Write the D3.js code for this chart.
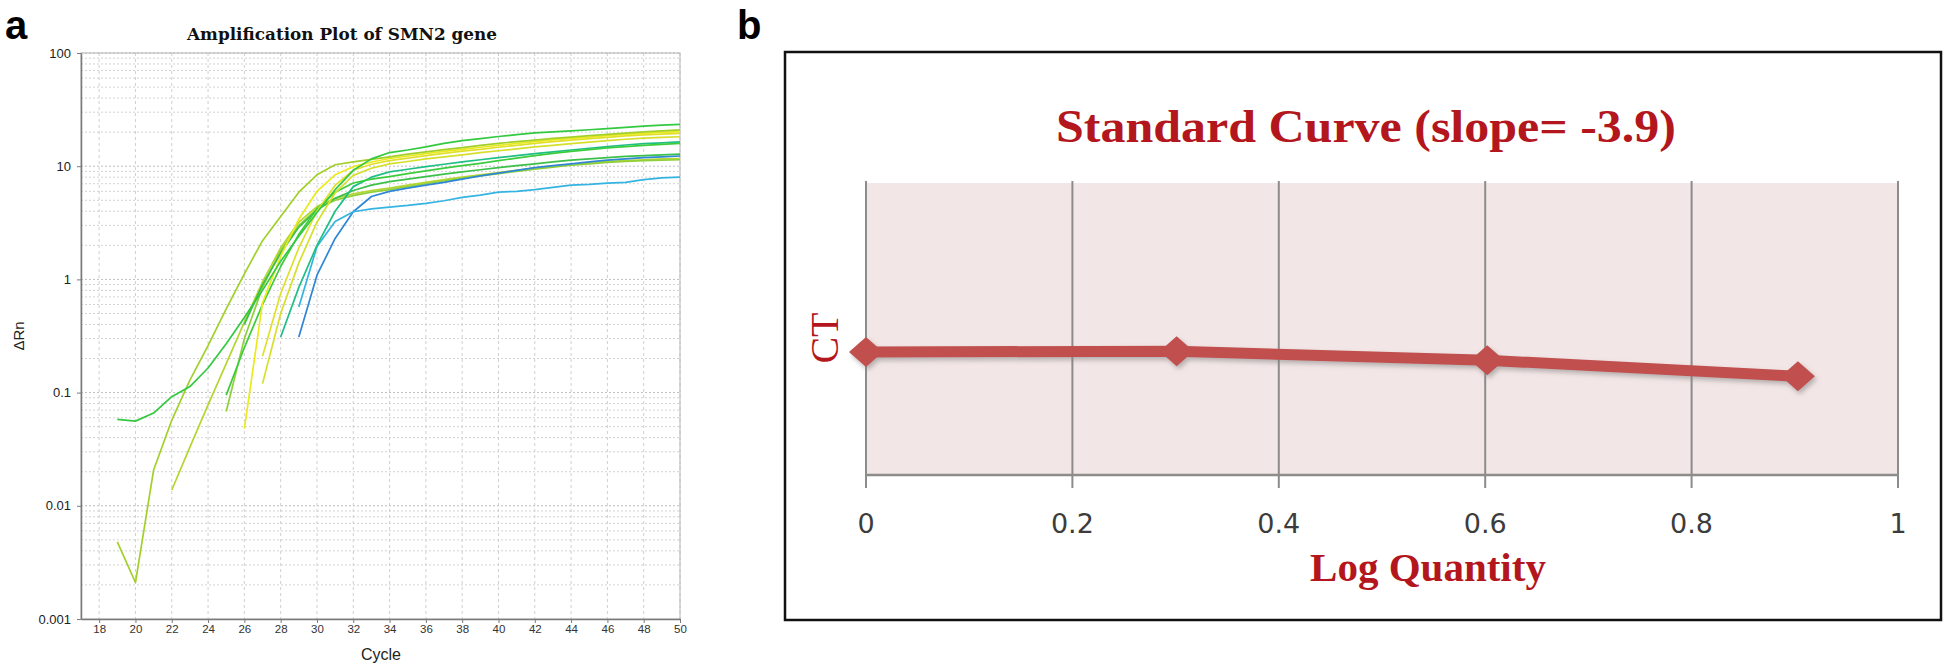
<!DOCTYPE html>
<html><head><meta charset="utf-8">
<script src="https://cdn.jsdelivr.net/npm/d3@7"></script>
<style>html,body{margin:0;padding:0;background:#fff;} svg{display:block}</style>
</head><body>
<svg id="chart" width="1946" height="668"></svg>
<script>
// ---------------- Panel a data : amplification plot ----------------
const cycleTicks = [18,20,22,24,26,28,30,32,34,36,38,40,42,44,46,48,50];
const rnTicks = [0.001,0.01,0.1,1,10,100];
const rnTickLabels = ["0.001","0.01","0.1","1","10","100"];

// each curve: first cycle + ΔRn value for every following cycle up to 50
const startA = 19, rnA = [0.058,0.056,0.066,0.092,0.113,0.165,0.27,0.46,0.80,1.45,2.4,3.9,6.2,9.2,11.6,13.2,13.9,14.8,15.9,16.8,17.5,18.3,19.0,19.7,20.1,20.5,21.0,21.5,22.0,22.6,23.1,23.4];
const startB = 19, rnB = [0.0048,0.0021,0.0207,0.057,0.129,0.26,0.55,1.12,2.2,3.6,5.9,8.4,10.3,10.9,11.5,12.1,12.8,13.4,14.0,14.6,15.3,15.9,16.5,17.0,17.6,18.1,18.6,19.1,19.6,20.1,20.5,20.9];
const startC = 22, rnC = [0.0138,0.033,0.078,0.18,0.42,0.95,1.9,3.2,4.4,5.2,5.7,6.1,6.4,6.8,7.2,7.6,8.0,8.4,8.8,9.2,9.6,10.0,10.4,10.7,11.0,11.2,11.4,11.6,11.7];
const startD = 25, rnD = [0.068,0.3,0.85,1.8,3.0,4.2,5.0,5.5,5.9,6.2,6.6,7.0,7.4,7.8,8.2,8.6,9.0,9.4,9.8,10.2,10.5,10.8,11.0,11.2,11.3,11.4];
const startE = 25, rnE = [0.095,0.25,0.6,1.3,2.5,4.2,5.9,7.1,7.7,8.1,8.6,9.1,9.6,10.1,10.6,11.2,11.8,12.4,13.0,13.5,14.0,14.5,14.9,15.3,15.6,15.9];
const startF = 26, rnF = [0.048,0.62,1.6,3.4,6.0,8.4,9.9,10.9,11.7,12.3,12.9,13.5,14.1,14.7,15.3,15.9,16.5,17.1,17.6,18.1,18.6,19.1,19.5,19.9,20.2];
const startG = 27, rnG = [0.12,0.5,1.4,3.2,5.8,8.3,9.6,10.5,11.0,11.6,12.1,12.6,13.2,13.7,14.2,14.8,15.3,15.8,16.3,16.8,17.3,17.7,18.0,18.2];
const startH = 27, rnH = [0.21,0.75,1.9,4.0,6.8,9.2,10.4,11.2,11.8,12.4,13.0,13.6,14.1,14.7,15.3,15.9,16.5,17.0,17.5,18.0,18.5,18.9,19.2,19.5];
const startI = 28, rnI = [0.31,0.85,2.0,4.0,6.6,8.0,8.9,9.4,9.9,10.4,10.9,11.4,11.9,12.4,12.9,13.4,13.9,14.4,14.9,15.4,15.8,16.1,16.4];
const startJ = 29, rnJ = [0.57,1.95,3.24,3.96,4.2,4.35,4.5,4.7,4.95,5.3,5.55,5.9,6.0,6.2,6.5,6.8,6.9,7.1,7.2,7.6,7.9,8.0];
const startK = 29, rnK = [0.31,1.09,2.3,3.96,5.4,6.0,6.4,6.8,7.2,7.7,8.2,8.7,9.2,9.7,10.1,10.5,10.9,11.3,11.6,11.9,12.1,12.3];
const startL = 26, rnL = [0.4,0.9,1.7,2.9,4.1,5.2,6.1,6.8,7.3,7.7,8.1,8.5,8.9,9.3,9.7,10.1,10.5,10.9,11.3,11.6,11.9,12.2,12.4,12.6,12.8];

const curveStarts = [startC,startD,startL,startK,startJ,startI,startE,startG,startH,startF,startB,startA];
const curveValues = [rnC,rnD,rnL,rnK,rnJ,rnI,rnE,rnG,rnH,rnF,rnB,rnA];
const curveColors = ["#b4d62e","#8fd03a","#3cc04a","#2f86d6","#35b4e2","#1fbf86","#3ccc3c","#d6e02a","#e0e02c","#eaea1e","#a2d02a","#33c940"];

// ---------------- Panel b data : standard curve ----------------
const logQuantity = [0, 0.301, 0.602, 0.903];
const ctValues = [29.7, 29.8, 28.5, 26.2];
const logTicks = [0, 0.2, 0.4, 0.6, 0.8, 1];
const logTickLabels = ["0","0.2","0.4","0.6","0.8","1"];

const svg = d3.select("#chart");

// ===================== PANEL A =====================
const ax = {left:81, right:680, top:53, bottom:619};
const x = d3.scaleLinear().domain([17,50]).range([ax.left, ax.right]);
const y = d3.scaleLog().domain([0.001,100]).range([ax.bottom, ax.top]);

const ga = svg.append("g");

// minor + major horizontal grid
const hGrid = [];
[0.001,0.01,0.1,1,10].forEach(d => { for (let m=1;m<=9;m++) hGrid.push(d*m); });
hGrid.push(100);
ga.append("g").selectAll("line").data(hGrid.filter(v=>v>0.001)).join("line")
  .attr("x1", ax.left).attr("x2", ax.right)
  .attr("y1", d=>y(d)).attr("y2", d=>y(d))
  .attr("stroke", d => rnTicks.includes(+d.toPrecision(3)) ? "#bdbdbd" : "#d2d2d2")
  .attr("stroke-width", 1)
  .attr("stroke-dasharray", "2,2");
// vertical grid
ga.append("g").selectAll("line").data(cycleTicks).join("line")
  .attr("x1", d=>x(d)).attr("x2", d=>x(d))
  .attr("y1", ax.top).attr("y2", ax.bottom)
  .attr("stroke", "#d0d0d0").attr("stroke-width", 1).attr("stroke-dasharray", "3,3");

// border
ga.append("rect").attr("x", ax.left).attr("y", ax.top)
  .attr("width", ax.right-ax.left).attr("height", ax.bottom-ax.top)
  .attr("fill","none").attr("stroke","#b4b4b4").attr("stroke-width",1);

// curves
const lineA = d3.line().x(d=>x(d[0])).y(d=>y(d[1]));
curveValues.forEach((vals,i) => {
  const pts = vals.map((v,k)=>[curveStarts[i]+k, v]);
  ga.append("path").datum(pts)
    .attr("d", lineA).attr("fill","none")
    .attr("stroke", curveColors[i]).attr("stroke-width", 1.7)
    .attr("stroke-linejoin","round");
});

// axes
const xAxisA = d3.axisBottom(x).tickValues(cycleTicks).tickSize(4).tickSizeOuter(0);
const gx = ga.append("g").attr("transform",`translate(0,${ax.bottom})`).call(xAxisA);
gx.select(".domain").attr("stroke","#7a7a7a").attr("stroke-width",1.5);
gx.selectAll(".tick line").attr("stroke","#7a7a7a");
gx.selectAll(".tick text").attr("font-family","Liberation Sans, Arial, sans-serif")
  .attr("font-size", 11.5).attr("fill","#333").attr("dy","0.6em");

const yAxisA = d3.axisLeft(y).tickValues(rnTicks).tickFormat((d,i)=>rnTickLabels[i]).tickSize(4).tickSizeOuter(0);
const gy = ga.append("g").attr("transform",`translate(${ax.left},0)`).call(yAxisA);
gy.select(".domain").attr("stroke","#7a7a7a").attr("stroke-width",1.5);
gy.selectAll(".tick line").attr("stroke","#7a7a7a");
gy.selectAll(".tick text").attr("font-family","Liberation Sans, Arial, sans-serif")
  .attr("font-size", 13).attr("fill","#222").attr("x", -10);

// labels
ga.append("text").attr("x", 342).attr("y", 40).attr("text-anchor","middle")
  .attr("font-family","DejaVu Serif, serif").attr("font-weight","bold").attr("font-size",17)
  .attr("textLength", 310).attr("lengthAdjust","spacingAndGlyphs")
  .attr("fill","#111").text("Amplification Plot of SMN2 gene");
ga.append("text").attr("x", 381).attr("y", 660).attr("text-anchor","middle")
  .attr("font-family","Liberation Sans, Arial, sans-serif").attr("font-size",16)
  .attr("fill","#222").text("Cycle");
ga.append("text").attr("transform","translate(24,336) rotate(-90)").attr("text-anchor","middle")
  .attr("font-family","Liberation Sans, Arial, sans-serif").attr("font-size",15)
  .attr("fill","#222").text("ΔRn");
svg.append("text").attr("x", 5).attr("y", 39)
  .attr("font-family","Liberation Sans, Arial, sans-serif").attr("font-weight","bold")
  .attr("font-size",40).attr("fill","#000").text("a");

// ===================== PANEL B =====================
svg.append("text").attr("x", 737).attr("y", 39)
  .attr("font-family","Liberation Sans, Arial, sans-serif").attr("font-weight","bold")
  .attr("font-size",40).attr("fill","#000").text("b");

const frame = {x:785, y:52, w:1156, h:568};
const gb = svg.append("g");
gb.append("rect").attr("x",frame.x).attr("y",frame.y).attr("width",frame.w).attr("height",frame.h)
  .attr("fill","#fff").attr("stroke","#111").attr("stroke-width",2.5);

const bx = {left:866, right:1898, top:183, bottom:475};
const xb = d3.scaleLinear().domain([0,1]).range([bx.left,bx.right]);
const yb = d3.scaleLinear().domain([12,54]).range([bx.bottom,bx.top]);

gb.append("rect").attr("x",bx.left).attr("y",bx.top)
  .attr("width",bx.right-bx.left).attr("height",bx.bottom-bx.top)
  .attr("fill","#f3e6e6");

// vertical gridlines (extending below axis as ticks)
gb.append("g").selectAll("line").data(logTicks).join("line")
  .attr("x1",d=>xb(d)).attr("x2",d=>xb(d))
  .attr("y1",bx.top-2).attr("y2",bx.bottom+13)
  .attr("stroke","#8c8c8c").attr("stroke-width",2);
gb.append("line").attr("x1",bx.left).attr("x2",bx.right)
  .attr("y1",bx.bottom).attr("y2",bx.bottom)
  .attr("stroke","#8c8c8c").attr("stroke-width",2.5);
gb.append("g").selectAll("text").data(logTicks).join("text")
  .attr("x",d=>xb(d)).attr("y",533).attr("text-anchor","middle")
  .attr("font-family","DejaVu Sans, Verdana, sans-serif").attr("font-size",27)
  .attr("fill","#3c3c3c").text((d,i)=>logTickLabels[i]);

// shadow filter
const defs = svg.append("defs");
const f = defs.append("filter").attr("id","sh").attr("x","-10%").attr("y","-50%").attr("width","120%").attr("height","200%");
f.append("feDropShadow").attr("dx",2).attr("dy",3).attr("stdDeviation",2.5)
  .attr("flood-color","#808080").attr("flood-opacity",0.55);

const pts = logQuantity.map((q,i)=>[q,ctValues[i]]);
const gl = gb.append("g").attr("filter","url(#sh)");
gl.append("path").datum(pts)
  .attr("d", d3.line().x(d=>xb(d[0])).y(d=>yb(d[1])))
  .attr("fill","none").attr("stroke","#c0504d").attr("stroke-width",11)
  .attr("stroke-linejoin","round");
gl.selectAll("path.mk").data(pts).join("path").attr("class","mk")
  .attr("transform",d=>`translate(${xb(d[0])},${yb(d[1])})`)
  .attr("d","M0,-15L17,0L0,15L-17,0Z")
  .attr("fill","#c0504d");

// titles
const red = "#b3161c";
gb.append("text").attr("x",1366).attr("y",142).attr("text-anchor","middle")
  .attr("font-family","Liberation Serif, Times New Roman, serif").attr("font-weight","bold")
  .attr("font-size",46).attr("fill",red)
  .attr("textLength",620).attr("lengthAdjust","spacingAndGlyphs")
  .text("Standard Curve (slope= -3.9)");
gb.append("text").attr("x",1428).attr("y",581).attr("text-anchor","middle")
  .attr("font-family","Liberation Serif, Times New Roman, serif").attr("font-weight","bold")
  .attr("font-size",41).attr("fill",red).text("Log Quantity");
gb.append("text").attr("transform","translate(838,338) rotate(-90)").attr("text-anchor","middle")
  .attr("font-family","Liberation Serif, Times New Roman, serif")
  .attr("font-size",40).attr("fill",red).text("CT");
</script>
</body></html>
